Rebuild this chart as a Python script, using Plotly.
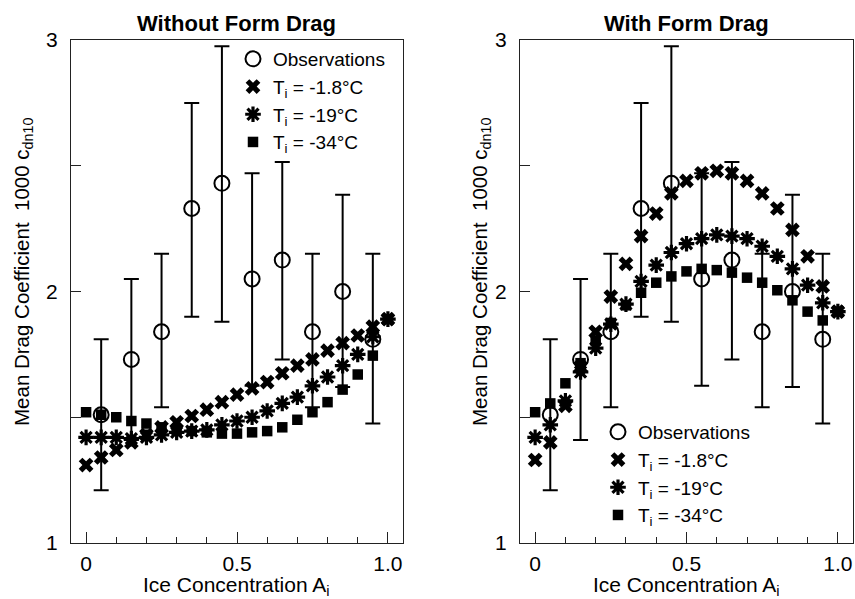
import plotly.graph_objects as go

# Ice concentration for the model runs and for the observation bins
ice_conc = [0.0, 0.05, 0.1, 0.15, 0.2, 0.25, 0.3, 0.35, 0.4, 0.45, 0.5,
            0.55, 0.6, 0.65, 0.7, 0.75, 0.8, 0.85, 0.9, 0.95, 1.0]
obs_conc = [0.05, 0.15, 0.25, 0.35, 0.45, 0.55, 0.65, 0.75, 0.85, 0.95]

# Observed mean drag coefficient (x1000) with upper and lower bar ends
obs_mean = [1.51, 1.73, 1.84, 2.33, 2.43, 2.05, 2.125, 1.84, 2.0, 1.81]
obs_high = [1.81, 2.05, 2.15, 2.75, 2.975, 2.47, 2.515, 2.15, 2.385, 2.15]
obs_low = [1.21, 1.41, 1.54, 1.90, 1.88, 1.625, 1.73, 1.54, 1.62, 1.475]

# Model runs without form drag
nofd_t18 = [1.31, 1.34, 1.37, 1.40, 1.43, 1.46, 1.48, 1.505, 1.53, 1.56, 1.59,
            1.615, 1.64, 1.675, 1.705, 1.73, 1.765, 1.795, 1.825, 1.86, 1.89]
nofd_t19 = [1.42, 1.42, 1.42, 1.415, 1.42, 1.43, 1.44, 1.445, 1.45, 1.47, 1.485,
            1.50, 1.525, 1.555, 1.58, 1.625, 1.66, 1.705, 1.75, 1.82, 1.89]
nofd_t34 = [1.52, 1.51, 1.50, 1.485, 1.475, 1.46, 1.45, 1.445, 1.44, 1.435, 1.435,
            1.44, 1.445, 1.46, 1.49, 1.52, 1.56, 1.61, 1.67, 1.745, 1.89]

# Model runs with form drag
fd_t18 = [1.33, 1.40, 1.545, 1.70, 1.84, 1.98, 2.11, 2.22, 2.31, 2.39, 2.44,
          2.47, 2.48, 2.47, 2.44, 2.39, 2.33, 2.245, 2.14, 2.02, 1.92]
fd_t19 = [1.42, 1.47, 1.565, 1.68, 1.775, 1.87, 1.95, 2.04, 2.105, 2.155, 2.19,
          2.21, 2.225, 2.22, 2.21, 2.18, 2.14, 2.09, 2.025, 1.955, 1.92]
fd_t34 = [1.52, 1.555, 1.635, 1.715, 1.805, 1.875, 1.945, 1.995, 2.035, 2.06, 2.08,
          2.09, 2.085, 2.075, 2.055, 2.035, 2.005, 1.965, 1.92, 1.885, 1.92]

series_names = ["Observations", "T<sub>i</sub> = -1.8°C",
                "T<sub>i</sub> = -19°C", "T<sub>i</sub> = -34°C"]
panel_titles = ["Without Form Drag", "With Form Drag"]
x_ticks = [0, 0.5, 1.0]
x_tick_text = ["0", "0.5", "1.0"]
y_ticks = [1, 2, 3]

FONT = "Liberation Sans, Arial, Helvetica, sans-serif"
INK = "black"
FRAME = "#222"

fig = go.Figure()

err_up = [h - m for h, m in zip(obs_high, obs_mean)]
err_dn = [m - l for m, l in zip(obs_mean, obs_low)]

panels = [
    ("x", "y", "legend", [nofd_t18, nofd_t19, nofd_t34]),
    ("x2", "y2", "legend2", [fd_t18, fd_t19, fd_t34]),
]

for xa, ya, leg, runs in panels:
    fig.add_trace(go.Scatter(
        x=obs_conc, y=obs_mean, mode="markers", name=series_names[0],
        xaxis=xa, yaxis=ya, legend=leg, legendrank=1,
        marker=dict(symbol="circle-open", size=15, color=INK,
                    line=dict(width=2, color=INK)),
        error_y=dict(type="data", symmetric=False, array=err_up,
                     arrayminus=err_dn, color=INK, thickness=2, width=7.5),
    ))
    fig.add_trace(go.Scatter(
        x=ice_conc, y=runs[0], mode="markers", name=series_names[1],
        xaxis=xa, yaxis=ya, legend=leg, legendrank=2,
        marker=dict(symbol="x", size=13, color=INK, line=dict(width=0)),
    ))
    fig.add_trace(go.Scatter(
        x=ice_conc, y=runs[1], mode="markers", name=series_names[2],
        xaxis=xa, yaxis=ya, legend=leg, legendrank=3,
        marker=dict(symbol="asterisk", size=13, color=INK,
                    line=dict(width=3.2, color=INK)),
    ))
    fig.add_trace(go.Scatter(
        x=ice_conc, y=runs[2], mode="markers", name=series_names[3],
        xaxis=xa, yaxis=ya, legend=leg, legendrank=4,
        marker=dict(symbol="square", size=10.5, color=INK, line=dict(width=0)),
    ))

W, H = 855, 599
left_dom = [71 / W, 403 / W]
right_dom = [520 / W, 853 / W]
y_dom = [1 - 543 / H, 1 - 40 / H]


def xaxis_style(domain, anchor):
    return dict(
        domain=domain, anchor=anchor, range=[-0.05, 1.05],
        showgrid=False, zeroline=False, automargin=False,
        showline=True, linecolor=FRAME, linewidth=1.3, mirror=True,
        ticks="inside", ticklen=11, tickwidth=1.3, tickcolor=FRAME,
        tickmode="array", tickvals=x_ticks, ticktext=x_tick_text,
        ticklabelstandoff=2,
        minor=dict(tick0=0, dtick=0.1, ticks="inside", ticklen=6,
                   tickwidth=1.3, tickcolor=FRAME, showgrid=False),
        tickfont=dict(family=FONT, size=21, color=INK),
    )


def yaxis_style(anchor):
    return dict(
        domain=y_dom, anchor=anchor, range=[1, 3],
        showgrid=False, zeroline=False, automargin=False,
        showline=True, linecolor=FRAME, linewidth=1.3, mirror=True,
        ticks="inside", ticklen=10, tickwidth=1.3, tickcolor=FRAME,
        tickmode="array", tickvals=y_ticks,
        ticklabelstandoff=8,
        minor=dict(tick0=1, dtick=0.5, ticks="inside", ticklen=10,
                   tickwidth=1.3, tickcolor=FRAME, showgrid=False),
        tickfont=dict(family=FONT, size=21, color=INK),
    )


annotations = []
for dom, title in zip([left_dom, right_dom], panel_titles):
    cx = (dom[0] + dom[1]) / 2
    annotations.append(dict(
        text=f"<b>{title}</b>", xref="paper", yref="paper",
        x=cx, y=1 - 24 / H, xanchor="center", yanchor="middle",
        showarrow=False, font=dict(family=FONT, size=22, color=INK)))
    annotations.append(dict(
        text="Ice Concentration A<sub>i</sub>", xref="paper", yref="paper",
        x=cx, y=1 - 586 / H, xanchor="center", yanchor="middle",
        showarrow=False, font=dict(family=FONT, size=21, color=INK)))

for xpix in [23, 481]:
    annotations.append(dict(
        text="Mean Drag Coefficient  1000 c<sub>dn10</sub>",
        xref="paper", yref="paper", x=xpix / W, y=1 - 272 / H,
        xanchor="center", yanchor="middle", textangle=-90,
        showarrow=False, font=dict(family=FONT, size=20.5, color=INK)))

legend_style = dict(
    font=dict(family=FONT, size=19, color=INK),
    bgcolor="rgba(0,0,0,0)", borderwidth=0,
    xanchor="left", yanchor="top", itemsizing="trace",
    tracegroupgap=0,
)

fig.update_layout(
    width=W, height=H,
    margin=dict(l=0, r=0, t=0, b=0, pad=0, autoexpand=False),
    paper_bgcolor="white", plot_bgcolor="white",
    font=dict(family=FONT, color=INK),
    xaxis=xaxis_style(left_dom, "y"),
    yaxis=yaxis_style("x"),
    xaxis2=xaxis_style(right_dom, "y2"),
    yaxis2=yaxis_style("x2"),
    legend=dict(legend_style, x=(255 - 22) / W, y=1 - 40 / H),
    legend2=dict(legend_style, x=(620 - 22) / W, y=1 - 413 / H),
    annotations=annotations,
    showlegend=True,
)

fig.write_html("out.html")
